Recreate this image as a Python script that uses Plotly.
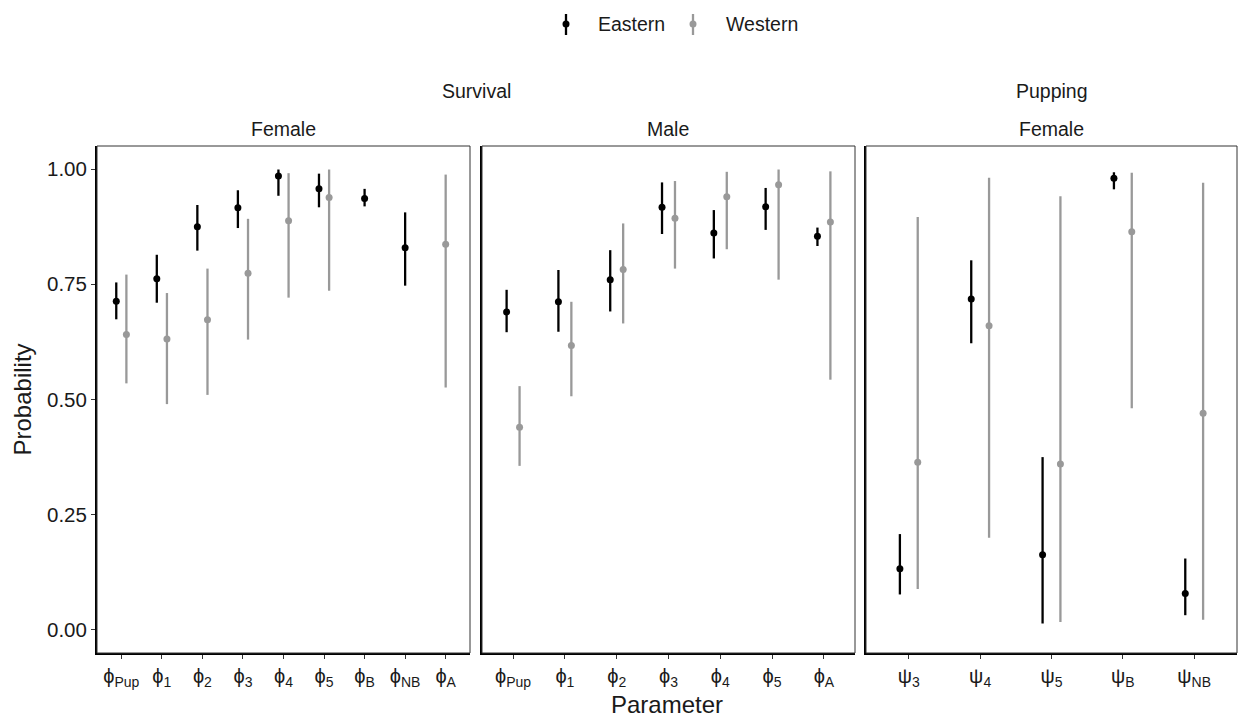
import plotly.graph_objects as go

# ---- data -------------------------------------------------------------
surv_f_labels = ["ϕ<sub>Pup</sub>", "ϕ<sub>1</sub>", "ϕ<sub>2</sub>", "ϕ<sub>3</sub>",
                 "ϕ<sub>4</sub>", "ϕ<sub>5</sub>", "ϕ<sub>B</sub>", "ϕ<sub>NB</sub>", "ϕ<sub>A</sub>"]
surv_f_east_mean = [0.713, 0.762, 0.875, 0.916, 0.985, 0.957, 0.936, 0.829, None]
surv_f_east_low = [0.674, 0.710, 0.823, 0.872, 0.942, 0.917, 0.919, 0.747, None]
surv_f_east_high = [0.754, 0.814, 0.922, 0.954, 0.999, 0.990, 0.957, 0.906, None]
surv_f_west_mean = [0.641, 0.631, 0.673, 0.774, 0.888, 0.938, None, None, 0.837]
surv_f_west_low = [0.535, 0.490, 0.510, 0.630, 0.721, 0.736, None, None, 0.526]
surv_f_west_high = [0.771, 0.731, 0.784, 0.892, 0.991, 0.999, None, None, 0.988]

surv_m_labels = ["ϕ<sub>Pup</sub>", "ϕ<sub>1</sub>", "ϕ<sub>2</sub>", "ϕ<sub>3</sub>",
                 "ϕ<sub>4</sub>", "ϕ<sub>5</sub>", "ϕ<sub>A</sub>"]
surv_m_east_mean = [0.690, 0.712, 0.760, 0.917, 0.861, 0.918, 0.854]
surv_m_east_low = [0.646, 0.647, 0.691, 0.859, 0.806, 0.868, 0.833]
surv_m_east_high = [0.738, 0.781, 0.824, 0.971, 0.911, 0.959, 0.873]
surv_m_west_mean = [0.440, 0.617, 0.782, 0.893, 0.940, 0.966, 0.885]
surv_m_west_low = [0.356, 0.507, 0.665, 0.784, 0.826, 0.760, 0.543]
surv_m_west_high = [0.529, 0.712, 0.882, 0.974, 0.994, 0.999, 0.995]

pup_f_labels = ["ψ<sub>3</sub>", "ψ<sub>4</sub>", "ψ<sub>5</sub>", "ψ<sub>B</sub>", "ψ<sub>NB</sub>"]
pup_f_east_mean = [0.133, 0.718, 0.163, 0.980, 0.079]
pup_f_east_low = [0.077, 0.622, 0.014, 0.956, 0.032]
pup_f_east_high = [0.208, 0.802, 0.375, 0.993, 0.155]
pup_f_west_mean = [0.364, 0.660, 0.360, 0.864, 0.470]
pup_f_west_low = [0.089, 0.200, 0.017, 0.481, 0.022]
pup_f_west_high = [0.896, 0.981, 0.941, 0.992, 0.970]

EAST_COLOR = "#000000"
WEST_COLOR = "#999999"
FONT = "Liberation Sans, Arial, sans-serif"

# ---- layout geometry (pixels) ------------------------------------------
W, H = 1238, 717
ML, MR, MT, MB = 97, 1, 146, 64
PW, PH = W - ML - MR, H - MT - MB


def px_x(px):
    return (px - ML) / PW


def px_y(py):
    return (H - MB - py) / PH


panel_px = [(97, 470), (482, 855), (866, 1237)]
domains = [[px_x(a), px_x(b)] for a, b in panel_px]

panels = [
    (surv_f_labels, surv_f_east_mean, surv_f_east_low, surv_f_east_high,
     surv_f_west_mean, surv_f_west_low, surv_f_west_high),
    (surv_m_labels, surv_m_east_mean, surv_m_east_low, surv_m_east_high,
     surv_m_west_mean, surv_m_west_low, surv_m_west_high),
    (pup_f_labels, pup_f_east_mean, pup_f_east_low, pup_f_east_high,
     pup_f_west_mean, pup_f_west_low, pup_f_west_high),
]

fig = go.Figure()
DODGE = 0.125

for p, (labels, em, el, eh, wm, wl, wh) in enumerate(panels):
    xa = "x" if p == 0 else f"x{p + 1}"
    ya = "y" if p == 0 else f"y{p + 1}"
    for name, color, mean, low, high, sign in [
        ("Eastern", EAST_COLOR, em, el, eh, -1),
        ("Western", WEST_COLOR, wm, wl, wh, 1),
    ]:
        xs, ys, up, dn = [], [], [], []
        for i in range(len(labels)):
            if mean[i] is None:
                continue
            other = wm if sign < 0 else em
            off = sign * DODGE if other[i] is not None else 0.0
            xs.append(i + 1 + off)
            ys.append(mean[i])
            up.append(high[i] - mean[i])
            dn.append(mean[i] - low[i])
        fig.add_trace(go.Scatter(
            x=xs, y=ys, mode="markers", name=name, showlegend=False,
            xaxis=xa, yaxis=ya,
            marker=dict(color=color, size=7),
            error_y=dict(type="data", symmetric=False, array=up, arrayminus=dn,
                         color=color, thickness=2.3, width=0),
        ))

layout_axes = {}
for p, (labels, *_rest) in enumerate(panels):
    xkey = "xaxis" if p == 0 else f"xaxis{p + 1}"
    ykey = "yaxis" if p == 0 else f"yaxis{p + 1}"
    yname = "y" if p == 0 else f"y{p + 1}"
    layout_axes[xkey] = dict(
        domain=domains[p], anchor=yname,
        range=[0.4, len(labels) + 0.6],
        tickvals=list(range(1, len(labels) + 1)), ticktext=labels,
        showgrid=False, zeroline=False,
        showline=True, linecolor="#000000", linewidth=2,
        ticks="outside", ticklen=4, tickwidth=1.2, tickcolor="#333333",
        tickfont=dict(family=FONT, size=20, color="#1a1a1a"),
        fixedrange=True,
    )
    ax_y = dict(
        domain=[0, 1], anchor="x" if p == 0 else f"x{p + 1}",
        range=[-0.05, 1.05],
        showgrid=False, zeroline=False,
        showline=True, linecolor="#000000", linewidth=2,
        fixedrange=True,
    )
    if p == 0:
        ax_y.update(tickvals=[0, 0.25, 0.5, 0.75, 1.0],
                    ticktext=["0.00", "0.25", "0.50", "0.75", "1.00"],
                    ticks="outside", ticklen=4, tickwidth=1.2, tickcolor="#333333",
                    tickfont=dict(family=FONT, size=20.5, color="#1a1a1a"))
    else:
        ax_y.update(showticklabels=False, ticks="", matches="y")
    layout_axes[ykey] = ax_y

# thin panel borders
shapes = []
for p in range(3):
    xr = "x domain" if p == 0 else f"x{p + 1} domain"
    yr = "y domain" if p == 0 else f"y{p + 1} domain"
    shapes.append(dict(type="rect", xref=xr, yref=yr, x0=0, x1=1, y0=0, y1=1,
                       line=dict(color="#333333", width=1), fillcolor="rgba(0,0,0,0)"))

# legend glyphs
for cx, color in [(566, EAST_COLOR), (693, WEST_COLOR)]:
    shapes.append(dict(type="line", xref="paper", yref="paper",
                       x0=px_x(cx), x1=px_x(cx), y0=px_y(14), y1=px_y(35),
                       line=dict(color=color, width=2.3)))
    shapes.append(dict(type="circle", xref="paper", yref="paper",
                       x0=px_x(cx - 3.5), x1=px_x(cx + 3.5), y0=px_y(27.5), y1=px_y(20.5),
                       line=dict(color=color, width=0), fillcolor=color))

annotations = []


def note(text, px, py, size, **kw):
    annotations.append(dict(text=text, xref="paper", yref="paper",
                            x=px_x(px), y=px_y(py), showarrow=False,
                            font=dict(family=FONT, size=size, color="#1a1a1a"), **kw))


note("Eastern", 596, 23.5, 19.5, xanchor="left", yanchor="middle")
note("Western", 724, 23.5, 19.5, xanchor="left", yanchor="middle")
note("Survival", 476, 91, 19.5, xanchor="center", yanchor="middle")
note("Pupping", 1052, 91, 19.5, xanchor="center", yanchor="middle")
note("Female", 283.5, 129, 19.5, xanchor="center", yanchor="middle")
note("Male", 668.5, 129, 19.5, xanchor="center", yanchor="middle")
note("Female", 1051.5, 129, 19.5, xanchor="center", yanchor="middle")
note("Parameter", 667.5, 704, 24, xanchor="center", yanchor="middle")
note("Probability", 22, 399.5, 24, xanchor="center", yanchor="middle", textangle=-90)

fig.update_layout(
    width=W, height=H,
    margin=dict(l=ML, r=MR, t=MT, b=MB),
    paper_bgcolor="white", plot_bgcolor="white",
    showlegend=False,
    shapes=shapes, annotations=annotations,
    **layout_axes,
)

fig.write_html("out.html", config={"displayModeBar": False})
